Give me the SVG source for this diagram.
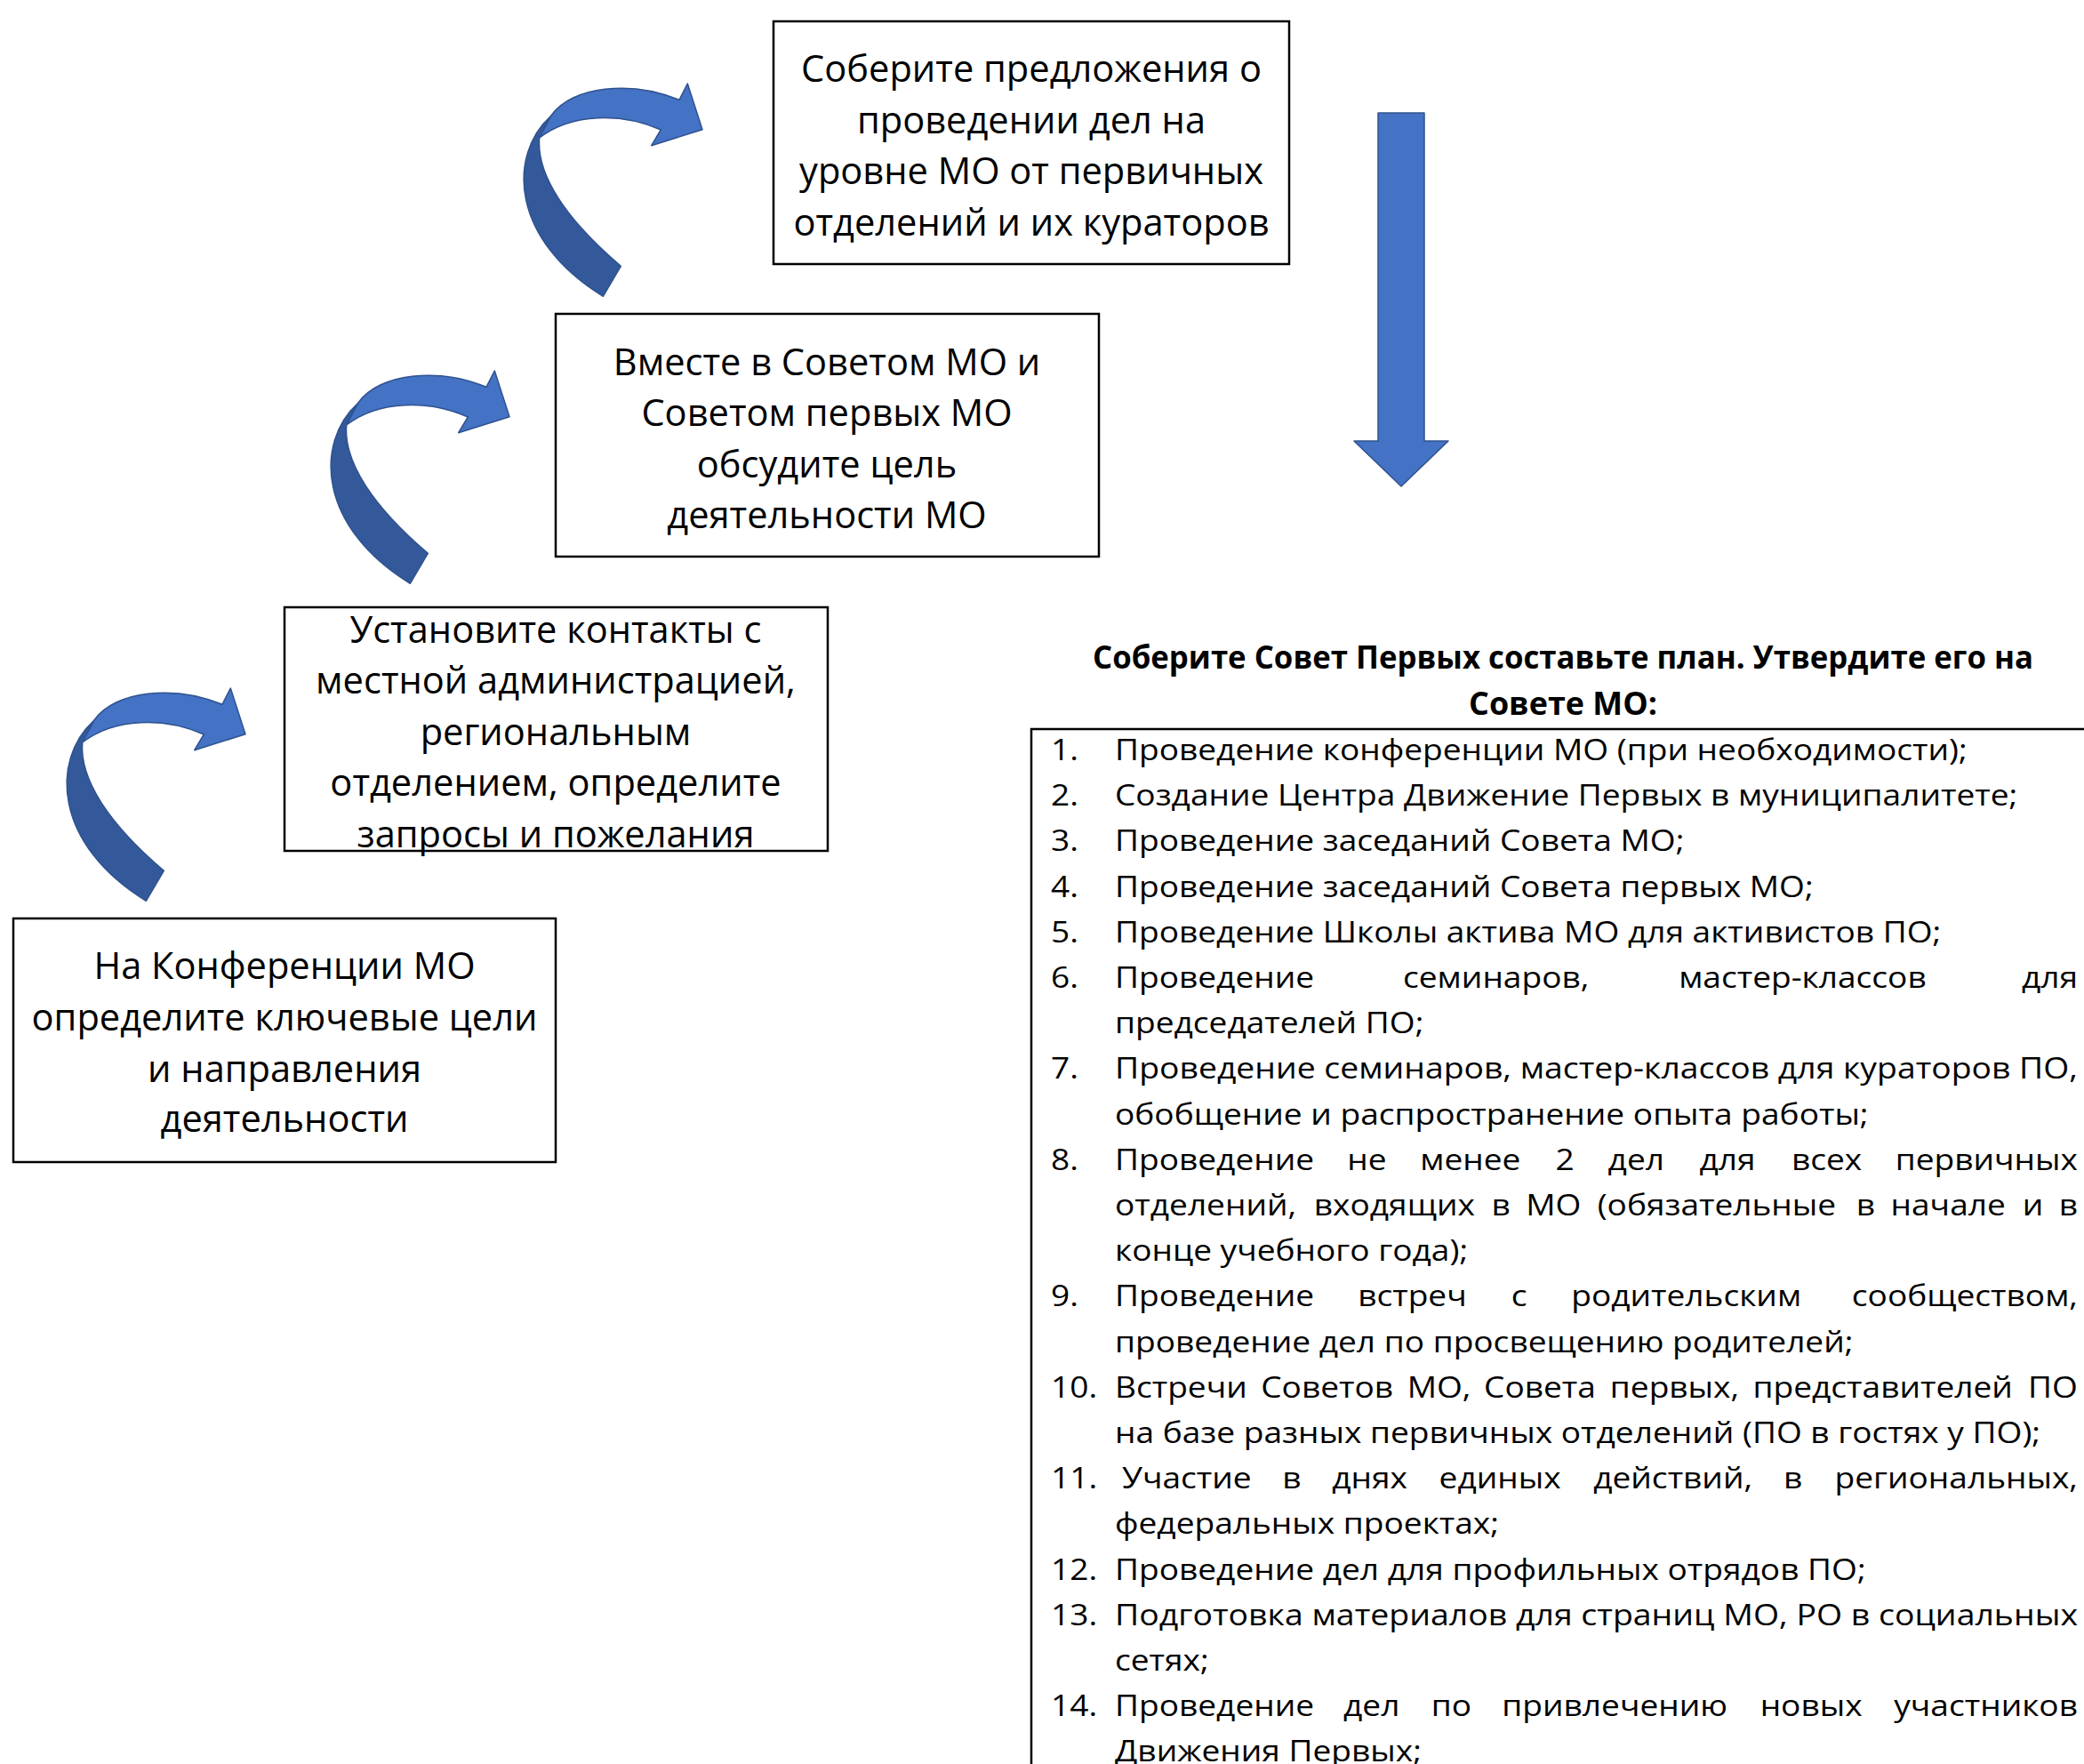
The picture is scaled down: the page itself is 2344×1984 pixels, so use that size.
<svg xmlns="http://www.w3.org/2000/svg" xmlns:xlink="http://www.w3.org/1999/xlink" width="2344" height="1984" viewBox="0 0 2344 1984">
<style>
.box{fill:#fff;stroke:#000;stroke-width:2.5}
.bt{font-family:"Open Sans","Noto Sans",sans-serif;font-size:41.6px;fill:#000;text-anchor:middle}
.lt{font-family:"Open Sans","Noto Sans",sans-serif;font-size:33px;fill:#000}
.e{text-anchor:end}
.hd{font-family:"Open Sans","Noto Sans",sans-serif;font-size:36px;font-weight:bold;fill:#000;text-anchor:middle}
.lite{fill:#4472C4;stroke:#2F528F;stroke-width:1.5;stroke-linejoin:round}
.dark{fill:#34599A;stroke:#2F528F;stroke-width:1.5;stroke-linejoin:round}
</style>
<defs>
<g id="curl">
<path class="dark" d="M620,130 C570,175 575,270 678.3,333.3 L698.3,299.3 C636.7,246.7 603.3,196.7 606.7,155 Z"/>
<path class="lite" d="M606.7,155 C643.3,126.7 700,126.7 743.3,146 L732.7,163.7 L790,145.7 L773.3,94 L764,112.3 C710,90 643.3,96.7 620,130 Z"/>
</g>
</defs>
<rect width="2344" height="1984" fill="#fff"/>

<g id="connectors">
<use xlink:href="#curl"/>
<use xlink:href="#curl" transform="translate(-217,323)"/>
<use xlink:href="#curl" transform="translate(-514,680)"/>
<path class="lite" d="M1550,127 L1602,127 L1602,496 L1629,496 L1576,547 L1523,496 L1550,496 Z"/>
</g>

<g id="node1">
<rect class="box" x="870" y="24" width="580" height="273"/>
<text class="bt" x="1160" y="92">Соберите предложения о</text>
<text class="bt" x="1160" y="150">проведении дел на</text>
<text class="bt" x="1160" y="207">уровне МО от первичных</text>
<text class="bt" x="1160" y="265">отделений и их кураторов</text>
</g>

<g id="node2">
<rect class="box" x="625" y="353" width="611" height="273"/>
<text class="bt" x="930" y="422">Вместе в Советом МО и</text>
<text class="bt" x="930" y="479">Советом первых МО</text>
<text class="bt" x="930" y="537">обсудите цель</text>
<text class="bt" x="930" y="594">деятельности МО</text>
</g>

<g id="node3">
<rect class="box" x="320" y="683" width="611" height="274"/>
<text class="bt" x="625" y="723">Установите контакты с</text>
<text class="bt" x="625" y="780">местной администрацией,</text>
<text class="bt" x="625" y="838">региональным</text>
<text class="bt" x="625" y="895">отделением, определите</text>
<text class="bt" x="625" y="953">запросы и пожелания</text>
</g>

<g id="node4">
<rect class="box" x="15" y="1033" width="610" height="274"/>
<text class="bt" x="320" y="1101">На Конференции МО</text>
<text class="bt" x="320" y="1159">определите ключевые цели</text>
<text class="bt" x="320" y="1217">и направления</text>
<text class="bt" x="320" y="1273">деятельности</text>
</g>

<g id="node5">
<text class="hd" x="1758" y="752" textLength="1058" lengthAdjust="spacingAndGlyphs">Соберите Совет Первых составьте план. Утвердите его на</text>
<text class="hd" x="1758" y="804" textLength="212" lengthAdjust="spacingAndGlyphs">Совете МО:</text>
<rect x="1160" y="820" width="1300" height="1300" fill="none" stroke="#000" stroke-width="2.5"/>
<g class="lt" transform="translate(1254,0) scale(1.124,1)">
<text x="-64" y="855">1.</text>
<text x="0" y="855">Проведение конференции МО (при необходимости);</text>
<text x="-64" y="906">2.</text>
<text x="0" y="906">Создание Центра Движение Первых в муниципалитете;</text>
<text x="-64" y="957">3.</text>
<text x="0" y="957">Проведение заседаний Совета МО;</text>
<text x="-64" y="1009">4.</text>
<text x="0" y="1009">Проведение заседаний Совета первых МО;</text>
<text x="-64" y="1060">5.</text>
<text x="0" y="1060">Проведение Школы актива МО для активистов ПО;</text>
<text x="-64" y="1111">6.</text>
<text y="1111"><tspan x="0">Проведение</tspan><tspan x="288.3">семинаров,</tspan><tspan x="564.2">мастер-классов</tspan></text>
<text class="e" x="963.5" y="1111">для</text>
<text x="0" y="1162">председателей ПО;</text>
<text x="-64" y="1213">7.</text>
<text x="0" y="1213" textLength="963.5" lengthAdjust="spacingAndGlyphs">Проведение семинаров, мастер-классов для кураторов ПО,</text>
<text x="0" y="1265">обобщение и распространение опыта работы;</text>
<text x="-64" y="1316">8.</text>
<text y="1316"><tspan x="0">Проведение</tspan><tspan x="232.4">не</tspan><tspan x="305.4">менее</tspan><tspan x="440.8">2</tspan><tspan x="493.4">дел</tspan><tspan x="585">для</tspan><tspan x="677">всех</tspan></text>
<text class="e" x="963.5" y="1316">первичных</text>
<text y="1367"><tspan x="0">отделений,</tspan><tspan x="199.1">входящих</tspan><tspan x="376.7">в</tspan><tspan x="411.2">МО</tspan><tspan x="482.8">(обязательные</tspan><tspan x="741.8">в</tspan><tspan x="776.3">начале</tspan><tspan x="908.2">и</tspan></text>
<text class="e" x="963.5" y="1367">в</text>
<text x="0" y="1418">конце учебного года);</text>
<text x="-64" y="1469">9.</text>
<text y="1469"><tspan x="0">Проведение</tspan><tspan x="243">встреч</tspan><tspan x="396.6">с</tspan><tspan x="456.6">родительским</tspan></text>
<text class="e" x="963.5" y="1469">сообществом,</text>
<text x="0" y="1521">проведение дел по просвещению родителей;</text>
<text x="-64" y="1572">10.</text>
<text y="1572"><tspan x="0">Встречи</tspan><tspan x="146.1">Советов</tspan><tspan x="292.4">МО,</tspan><tspan x="369.3">Совета</tspan><tspan x="495.4">первых,</tspan><tspan x="638.4">представителей</tspan></text>
<text class="e" x="963.5" y="1572">ПО</text>
<text x="0" y="1623">на базе разных первичных отделений (ПО в гостях у ПО);</text>
<text x="-64" y="1674">11.</text>
<text y="1674"><tspan x="7.1">Участие</tspan><tspan x="167.5">в</tspan><tspan x="217.3">днях</tspan><tspan x="324.4">единых</tspan><tspan x="478.8">действий,</tspan><tspan x="669">в</tspan></text>
<text class="e" x="963.5" y="1674">региональных,</text>
<text x="0" y="1725">федеральных проектах;</text>
<text x="-64" y="1777">12.</text>
<text x="0" y="1777">Проведение дел для профильных отрядов ПО;</text>
<text x="-64" y="1828">13.</text>
<text x="0" y="1828" textLength="963.5" lengthAdjust="spacingAndGlyphs">Подготовка материалов для страниц МО, РО в социальных</text>
<text x="0" y="1879">сетях;</text>
<text x="-64" y="1930">14.</text>
<text y="1930"><tspan x="0">Проведение</tspan><tspan x="228.7">дел</tspan><tspan x="316.6">по</tspan><tspan x="387.3">привлечению</tspan><tspan x="645.6">новых</tspan></text>
<text class="e" x="963.5" y="1930">участников</text>
<text x="0" y="1981">Движения Первых;</text>
</g>
</g>
</svg>
